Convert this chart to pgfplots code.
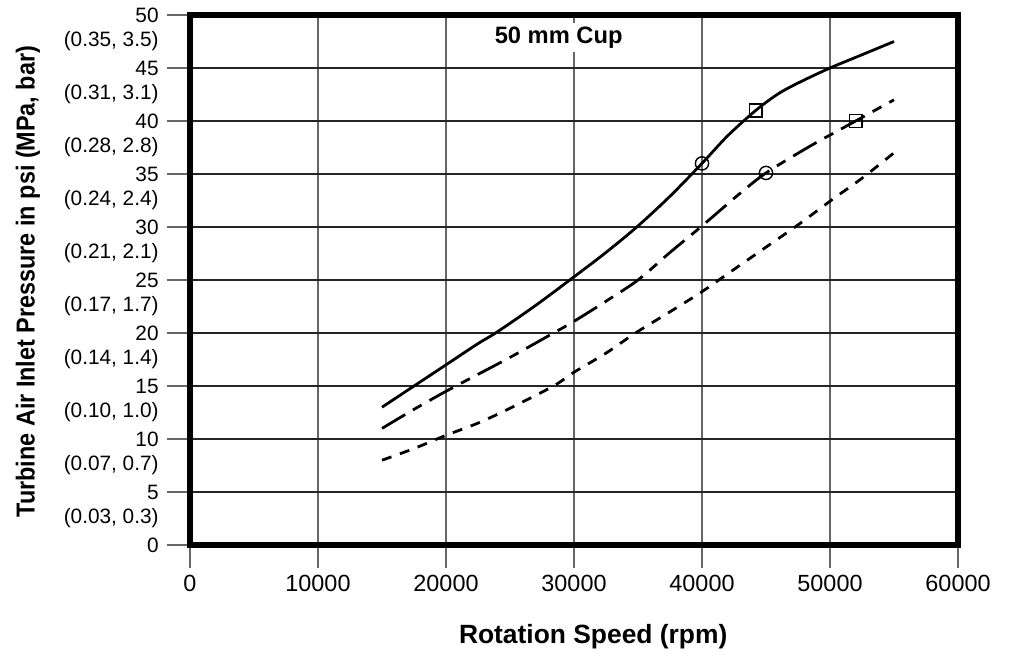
\documentclass[border=0pt]{standalone}
\usepackage{fontspec}
\setmainfont{Liberation Sans}
\newfontfamily\ylabfont[FakeStretch=0.9]{Liberation Sans}
\usepackage{pgfplots}
\pgfplotsset{compat=1.18}
\begin{document}
\begin{tikzpicture}
\useasboundingbox (0,0) rectangle (505pt,327pt);
\begin{axis}[
  at={(95pt,54.5pt)}, anchor=south west,
  scale only axis, width=384pt, height=265pt,
  xmin=0, xmax=60000, ymin=0, ymax=50,
  enlargelimits=false,
  scaled x ticks=false, scaled y ticks=false,
  xtick={0,10000,20000,30000,40000,50000,60000},
  xticklabels={0,10000,20000,30000,40000,50000,60000},
  ytick={0,5,10,15,20,25,30,35,40,45,50},
  yticklabels={0,5,10,15,20,25,30,35,40,45,50},
  extra y ticks={2.5,7.5,12.5,17.5,22.5,27.5,32.5,37.5,42.5,47.5},
  extra y tick labels={{(0.03, 0.3)},{(0.07, 0.7)},{(0.10, 1.0)},{(0.14, 1.4)},{(0.17, 1.7)},{(0.21, 2.1)},{(0.24, 2.4)},{(0.28, 2.8)},{(0.31, 3.1)},{(0.35, 3.5)}},
  extra y tick style={grid=none, tick style={draw=none}},
  xtick pos=left, ytick pos=left,
  tick align=outside,
  major tick length=11.5pt,
  tick style={black!60, line width=0.8pt},
  grid=major,
  major x grid style={black!60, line width=0.8pt},
  major y grid style={black!85, line width=0.8pt},
  axis line style={line width=2.8pt, black},
  xticklabel style={font=\fontsize{11.7}{14}\selectfont},
  yticklabel style={font=\fontsize{10.4}{12.5}\selectfont, inner xsep=4pt},
  /pgf/number format/assume math mode=true,
  xlabel={Rotation Speed (rpm)},
  ylabel={Turbine Air Inlet Pressure in psi (MPa, bar)},
  xlabel style={font=\bfseries\fontsize{13.2}{16}\selectfont, at={(axis description cs:0.525,-0.1736)}, anchor=center},
  ylabel style={font=\ylabfont\bfseries\fontsize{13}{16}\selectfont, at={(axis description cs:-0.2109,0.497)}, anchor=center},
]
\addplot[black, line width=1.4pt, smooth] coordinates {
(15000,13) (17500,15) (20000,17) (22500,19) (24000,20.1) (27000,22.6) (30000,25.3)
(32500,27.6) (35000,30.1) (37500,32.9) (40000,36) (42000,38.6) (44200,41)
(46000,42.6) (47700,43.7) (50000,45) (52300,46.15) (55000,47.5)};
\addplot[black, line width=1.4pt, smooth, dash pattern=on 13.5pt off 4.5pt on 5pt off 4.5pt] coordinates {
(15000,11) (17500,12.8) (20000,14.5) (22500,16.1) (25000,17.7) (28400,20) (30000,21.1)
(32500,23) (35000,25.0) (37500,27.6) (40000,30.1) (42800,33) (45000,35.1)
(48400,37.6) (50500,39.0) (52000,40) (55000,42)};
\addplot[black, line width=1.4pt, smooth, dash pattern=on 5pt off 4.5pt] coordinates {
(15000,8) (17500,9.1) (20000,10.35) (22500,11.5) (25000,12.9) (28400,15) (30000,16.3)
(32500,18.1) (34800,20) (37500,22) (40000,23.9) (42500,26) (45000,28.1)
(47500,30.2) (50300,32.7) (52500,34.6) (55000,37)};
\addplot[only marks, mark=o, mark size=3.3pt, mark options={black, line width=0.7pt}] coordinates {(40000,36) (45000,35.1)};
\addplot[only marks, mark=square, mark size=3.2pt, mark options={black, line width=0.7pt}] coordinates {(44200,41) (52000,40)};
\node[fill=white, inner xsep=3pt, inner ysep=2pt, font=\bfseries\fontsize{11.85}{14}\selectfont] at (axis cs:28800,47.9) {50 mm Cup};
\end{axis}
\end{tikzpicture}
\end{document}
